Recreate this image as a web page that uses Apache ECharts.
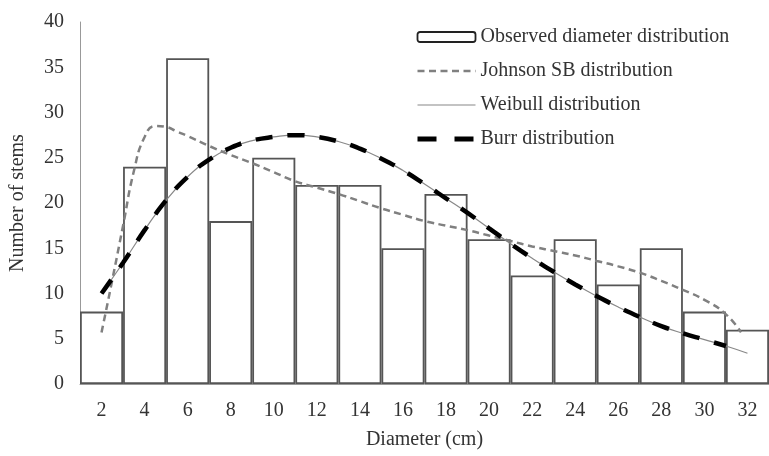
<!DOCTYPE html>
<html>
<head>
<meta charset="utf-8">
<script src="https://cdn.jsdelivr.net/npm/echarts@6/dist/echarts.min.js"></script>
<style>
html,body{margin:0;padding:0;background:#fff;}
#c{width:769px;height:456px;}
</style>
</head>
<body>
<div id="c"></div>
<script>
var categories = ['2','4','6','8','10','12','14','16','18','20','22','24','26','28','30','32'];
var observed = [8,24,36,18,25,22,22,15,21,16,12,16,11,15,8,6];
var yTicks = [0,5,10,15,20,25,30,35,40];

var johnsonX = [2,2.5,3,3.5,4,4.5,5,5.5,6,7,8,9,10,11,12,13,14,15,16,17,18,19,20,21,22,23,24,25,26,27,28,29,30,31,31.7];
var johnsonY = [5.7,11.5,17.5,23.5,27.3,28.5,28.4,27.9,27.4,26.3,25.3,24.4,23.4,22.4,21.7,21.0,20.2,19.4,18.7,18.0,17.5,17.0,16.4,15.8,15.2,14.7,14.2,13.6,13.0,12.3,11.4,10.4,9.3,7.7,5.7];

var weibullX = [2,3,4,5,6,7,8,9,10,11,12,13,14,15,16,17,18,19,20,21,22,23,24,25,26,27,28,29,30,31,32];
var weibullY = [10,13.4,17.0,20.3,22.9,24.8,26.1,26.9,27.3,27.5,27.3,26.8,26.0,24.9,23.6,22.1,20.5,18.9,17.2,15.5,13.9,12.4,11.0,9.7,8.5,7.4,6.4,5.6,4.9,4.2,3.4];

var burrX = [2,3,4,5,6,7,8,9,10,11,12,13,14,15,16,17,18,19,20,21,22,23,24,25,26,27,28,29,30,31];
var burrY = [10,13.4,17.0,20.3,22.9,24.8,26.1,26.9,27.3,27.5,27.3,26.8,26.0,24.9,23.6,22.1,20.5,18.9,17.2,15.5,13.9,12.4,11.0,9.7,8.5,7.4,6.4,5.6,4.9,4.2];

function pairs(xs, ys){ return xs.map(function(x,i){ return [x, ys[i]]; }); }

var font = 'Liberation Serif';
var txt = '#333';
var hidden = {opacity: 0};

var chart = echarts.init(document.getElementById('c'), null, {renderer:'canvas'});
chart.setOption({
  animation: false,
  backgroundColor: '#fff',
  grid: {left: 79, right: -13, top: 22, bottom: 72, containLabel: false},
  legend: {
    orient: 'vertical',
    left: 410,
    top: 22,
    itemWidth: 58,
    itemHeight: 10,
    itemGap: 14,
    textStyle: {fontFamily: font, fontSize: 20, color: txt},
    data: [
      {name: 'Observed diameter distribution', itemStyle: {color: '#fff', borderColor: '#222', borderWidth: 1.8}},
      {name: 'Johnson SB distribution', itemStyle: hidden, lineStyle: {color: '#808080', width: 2.5, type: [7,4.5], opacity: 1}},
      {name: 'Weibull distribution', itemStyle: hidden, lineStyle: {color: '#888', width: 1.2, opacity: 1}},
      {name: 'Burr distribution', itemStyle: hidden, lineStyle: {color: '#000', width: 5, type: [19,18], opacity: 1}}
    ]
  },
  xAxis: [
    {
      type: 'category',
      data: categories,
      boundaryGap: true,
      axisLine: {lineStyle: {color: '#999', width: 1}},
      axisTick: {show: false},
      axisLabel: {fontFamily: font, fontSize: 20, color: txt, margin: 17},
      name: 'Diameter (cm)',
      nameLocation: 'middle',
      nameGap: 46,
      nameTextStyle: {fontFamily: font, fontSize: 20, color: txt},
      splitLine: {show: false}
    },
    {
      type: 'value',
      min: 1, max: 33,
      show: false,
      splitLine: {show: false}
    }
  ],
  yAxis: {
    type: 'value',
    min: yTicks[0], max: yTicks[yTicks.length-1], interval: 5,
    axisLine: {show: true, lineStyle: {color: '#999', width: 1}},
    axisTick: {show: false},
    splitLine: {show: false},
    axisLabel: {fontFamily: font, fontSize: 20, color: txt, margin: 16},
    name: 'Number of stems',
    nameLocation: 'middle',
    nameGap: 52,
    nameTextStyle: {fontFamily: font, fontSize: 20, color: txt}
  },
  series: [
    {
      name: 'Observed diameter distribution',
      type: 'bar',
      xAxisIndex: 0,
      data: observed,
      barCategoryGap: '0%',
      barGap: '0%',
      itemStyle: {color: '#fff', borderColor: '#555', borderWidth: 1.8},
      z: 1
    },
    {
      name: 'Weibull distribution',
      type: 'line',
      xAxisIndex: 1,
      data: pairs(weibullX, weibullY),
      smooth: 0.5,
      symbol: 'none',
      showSymbol: false,
      itemStyle: {color: '#888'},
      lineStyle: {color: '#888', width: 1.2},
      z: 3
    },
    {
      name: 'Johnson SB distribution',
      type: 'line',
      xAxisIndex: 1,
      data: pairs(johnsonX, johnsonY),
      smooth: 0.5,
      symbol: 'none',
      showSymbol: false,
      itemStyle: {color: '#808080'},
      lineStyle: {color: '#808080', width: 2.5, type: [7,4.5]},
      z: 4
    },
    {
      name: 'Burr distribution',
      type: 'line',
      xAxisIndex: 1,
      data: pairs(burrX, burrY),
      smooth: 0.5,
      symbol: 'none',
      showSymbol: false,
      itemStyle: {color: '#000'},
      lineStyle: {color: '#000', width: 4.5, type: [17,15]},
      z: 5
    }
  ]
});
</script>
</body>
</html>
